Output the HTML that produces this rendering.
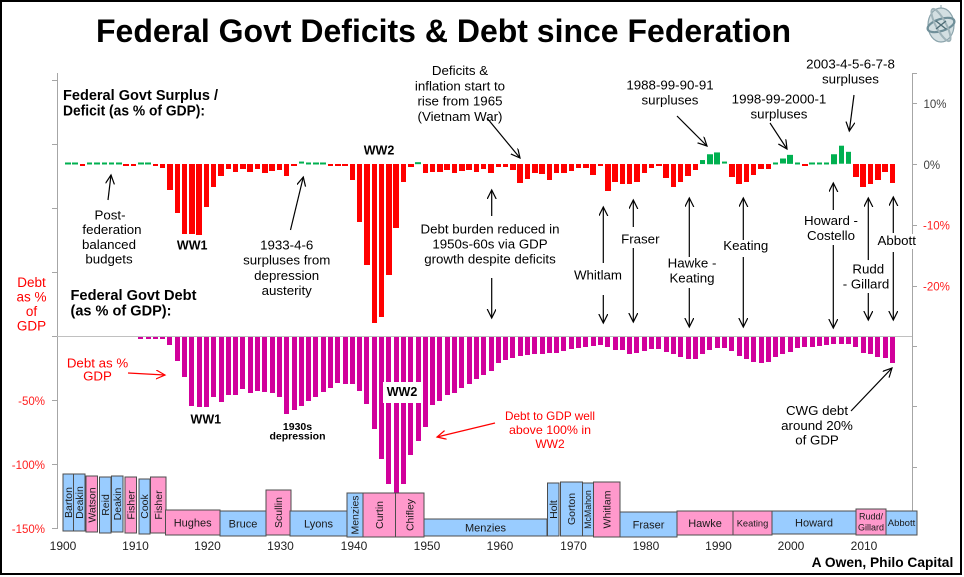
<!DOCTYPE html>
<html>
<head>
<meta charset="utf-8">
<style>
html,body{margin:0;padding:0;background:#fff;}
body{width:964px;height:577px;position:relative;overflow:hidden;font-family:"Liberation Sans",Arial,sans-serif;}
.row{position:absolute;display:flex;align-items:flex-start;height:0;width:900px;flex-wrap:nowrap;}
.row i,.row b{flex:none;display:block;width:5.5px;margin-right:1.8px;height:calc(var(--v)*6.1px);}
.row i{background:#ff0000;}
.row b{background:#00b050;transform:translateY(-100%);}
.drow{position:absolute;display:flex;align-items:flex-start;height:0;width:900px;flex-wrap:nowrap;}
.drow u{flex:none;display:block;width:5px;margin-right:2.3px;height:calc(var(--v)*1.28px);background:#d1009b;text-decoration:none;}
svg{position:absolute;left:0;top:0;}
</style>
</head>
<body>

<div class="row" style="left:65.05px;top:164px">
<b style="--v:.25"></b><b style="--v:.25"></b><i style="--v:.25"></i><b style="--v:.25"></b><b style="--v:.25"></b><b style="--v:.25"></b><b style="--v:.25"></b><b style="--v:.25"></b><i style="--v:.25"></i><i style="--v:.4"></i>
<b style="--v:.25"></b><b style="--v:.25"></b><i style="--v:.25"></i><i style="--v:.7"></i><i style="--v:4.3"></i><i style="--v:8"></i><i style="--v:11.4"></i><i style="--v:11.4"></i><i style="--v:11.6"></i><i style="--v:7"></i>
<i style="--v:3.8"></i><i style="--v:2"></i><i style="--v:.8"></i><i style="--v:1.3"></i><i style="--v:.8"></i><i style="--v:1.3"></i><i style="--v:.9"></i><i style="--v:1.5"></i><i style="--v:1.2"></i><i style="--v:1"></i>
<i style="--v:2"></i><i style="--v:.4"></i><b style="--v:.4"></b><b style="--v:.25"></b><b style="--v:.25"></b><b style="--v:.25"></b><i style="--v:.25"></i><i style="--v:.25"></i><i style="--v:.3"></i><i style="--v:2.7"></i>
<i style="--v:9.5"></i><i style="--v:16.6"></i><i style="--v:26"></i><i style="--v:25"></i><i style="--v:18.2"></i><i style="--v:10.5"></i><i style="--v:3"></i><i style="--v:.5"></i><b style="--v:.3"></b><i style="--v:1.5"></i>
<i style="--v:1.3"></i><i style="--v:1.3"></i><i style="--v:1"></i><i style="--v:1.4"></i><i style="--v:1.2"></i><i style="--v:1"></i><i style="--v:1.3"></i><i style="--v:.8"></i><i style="--v:1.4"></i><i style="--v:.5"></i>
<i style="--v:.5"></i><i style="--v:1"></i><i style="--v:3.1"></i><i style="--v:2.5"></i><i style="--v:1.5"></i><i style="--v:1.7"></i><i style="--v:2.7"></i><i style="--v:1.5"></i><i style="--v:1.5"></i><i style="--v:1.1"></i>
<i style="--v:.6"></i><i style="--v:.6"></i><i style="--v:1.8"></i><i style="--v:.25"></i><i style="--v:4.4"></i><i style="--v:2.9"></i><i style="--v:3.3"></i><i style="--v:3.2"></i><i style="--v:2.9"></i><i style="--v:1.5"></i>
<i style="--v:.6"></i><i style="--v:.3"></i><i style="--v:2.3"></i><i style="--v:3.7"></i><i style="--v:2.9"></i><i style="--v:1.9"></i><i style="--v:1"></i><b style="--v:.65"></b><b style="--v:1.6"></b><b style="--v:1.9"></b>
<b style="--v:.4"></b><i style="--v:2.2"></i><i style="--v:3.3"></i><i style="--v:3"></i><i style="--v:1.8"></i><i style="--v:.9"></i><i style="--v:.9"></i><b style="--v:.25"></b><b style="--v:.9"></b><b style="--v:1.5"></b>
<b style="--v:.25"></b><i style="--v:.4"></i><b style="--v:.25"></b><b style="--v:.25"></b><b style="--v:.25"></b><b style="--v:1.6"></b><b style="--v:3"></b><b style="--v:2"></b><i style="--v:2.1"></i><i style="--v:3.7"></i>
<i style="--v:3.3"></i><i style="--v:2.6"></i><i style="--v:1.3"></i><i style="--v:3.1"></i>
</div>

<div class="drow" style="left:65.3px;top:337px">
<u style="--v:0"></u><u style="--v:0"></u><u style="--v:0"></u><u style="--v:0"></u><u style="--v:0"></u><u style="--v:0"></u><u style="--v:0"></u><u style="--v:0"></u><u style="--v:0"></u><u style="--v:0"></u>
<u style="--v:1.3"></u><u style="--v:1.3"></u><u style="--v:1.3"></u><u style="--v:1.3"></u><u style="--v:6"></u><u style="--v:19"></u><u style="--v:31"></u><u style="--v:54"></u><u style="--v:54.5"></u><u style="--v:54.5"></u>
<u style="--v:47"></u><u style="--v:51"></u><u style="--v:45"></u><u style="--v:45"></u><u style="--v:41"></u><u style="--v:44"></u><u style="--v:42"></u><u style="--v:42.7"></u><u style="--v:43.5"></u><u style="--v:47"></u>
<u style="--v:60"></u><u style="--v:57"></u><u style="--v:54"></u><u style="--v:50"></u><u style="--v:47"></u><u style="--v:42.7"></u><u style="--v:40"></u><u style="--v:36"></u><u style="--v:37"></u><u style="--v:37"></u>
<u style="--v:42"></u><u style="--v:52"></u><u style="--v:72"></u><u style="--v:95"></u><u style="--v:115"></u><u style="--v:122"></u><u style="--v:115"></u><u style="--v:92"></u><u style="--v:81"></u><u style="--v:70"></u>
<u style="--v:53"></u><u style="--v:50"></u><u style="--v:45"></u><u style="--v:43.5"></u><u style="--v:40"></u><u style="--v:37"></u><u style="--v:33"></u><u style="--v:30"></u><u style="--v:26.5"></u><u style="--v:20"></u>
<u style="--v:18"></u><u style="--v:16.7"></u><u style="--v:14.8"></u><u style="--v:14.3"></u><u style="--v:13.5"></u><u style="--v:13"></u><u style="--v:12.2"></u><u style="--v:12.2"></u><u style="--v:11"></u><u style="--v:9.6"></u>
<u style="--v:8.9"></u><u style="--v:7.8"></u><u style="--v:7"></u><u style="--v:6.3"></u><u style="--v:7.8"></u><u style="--v:10.4"></u><u style="--v:10.4"></u><u style="--v:13"></u><u style="--v:12.2"></u><u style="--v:11"></u>
<u style="--v:9.6"></u><u style="--v:9"></u><u style="--v:11.5"></u><u style="--v:13.5"></u><u style="--v:15.6"></u><u style="--v:17.4"></u><u style="--v:17.4"></u><u style="--v:13.5"></u><u style="--v:10.4"></u><u style="--v:8.3"></u>
<u style="--v:8.3"></u><u style="--v:11"></u><u style="--v:14.8"></u><u style="--v:17.4"></u><u style="--v:19.5"></u><u style="--v:20"></u><u style="--v:19.5"></u><u style="--v:15.6"></u><u style="--v:13.5"></u><u style="--v:11.5"></u>
<u style="--v:8.9"></u><u style="--v:7.8"></u><u style="--v:7.8"></u><u style="--v:7"></u><u style="--v:6.3"></u><u style="--v:5.7"></u><u style="--v:5.2"></u><u style="--v:5.2"></u><u style="--v:7.8"></u><u style="--v:12.2"></u>
<u style="--v:13"></u><u style="--v:15.6"></u><u style="--v:16.7"></u><u style="--v:20"></u>
</div>

<svg width="964" height="577" viewBox="0 0 964 577" font-family="'Liberation Sans', Arial, sans-serif">
<defs>
<marker id="k" markerWidth="12" markerHeight="12" refX="9" refY="4.5" orient="auto" markerUnits="userSpaceOnUse"><path d="M0,0 L9,4.5 L0,9" fill="none" stroke="#000" stroke-width="1.2"/></marker>
<marker id="rr" markerWidth="12" markerHeight="12" refX="9" refY="4.5" orient="auto" markerUnits="userSpaceOnUse"><path d="M0,0 L9,4.5 L0,9" fill="none" stroke="#ff0000" stroke-width="1.2"/></marker>
</defs>

<!-- border -->
<rect x="1" y="1" width="960" height="573" fill="none" stroke="#000" stroke-width="2"/>

<!-- title -->
<text x="96" y="42" font-size="32" font-weight="bold" fill="#000" textLength="695" lengthAdjust="spacingAndGlyphs">Federal Govt Deficits &amp; Debt since Federation</text>

<!-- logo -->
<g transform="translate(941,25)">
<ellipse rx="13" ry="17" fill="#d3dfe2" stroke="#8aa3ab" stroke-width="1.2"/>
<ellipse rx="14" ry="6" transform="rotate(-18)" fill="none" stroke="#6f8f99" stroke-width="2.2"/>
<ellipse rx="5" ry="18" transform="rotate(-28)" fill="none" stroke="#9fb3b9" stroke-width="2"/>
<path d="M-5,-4 L5,4 M-5,4 L5,-4" stroke="#4f6d76" stroke-width="1.4"/>
<line x1="0" y1="-20" x2="0" y2="-17" stroke="#8aa3ab"/>
</g>

<!-- axes -->
<g stroke="#a6a6a6" stroke-width="1" fill="none">
<line x1="57.5" y1="73" x2="57.5" y2="529"/>
<path d="M52,80.5h5.5M52,144.5h5.5M52,208.5h5.5M52,272.5h5.5M52,336.5h5.5M52,400.5h5.5M52,464.5h5.5M52,528.5h5.5"/>
<line x1="912.5" y1="73" x2="912.5" y2="512"/>
<path d="M912,73.5h5M912,103.5h5M912,164.5h5M912,225.5h5M912,286.5h5M912,346.5h5M912,406.5h5M912,467.5h5"/>
</g>
<line x1="57" y1="336.5" x2="912" y2="336.5" stroke="#c0c0c0" stroke-width="1"/>

<!-- right axis labels -->
<g font-size="11.5">
<text x="923.5" y="108" fill="#404040">10%</text>
<text x="923.5" y="169" fill="#404040">0%</text>
<text x="923" y="229.5" fill="#ff2020">-10%</text>
<text x="923" y="290.5" fill="#ff2020">-20%</text>
</g>
<!-- left axis labels -->
<g font-size="11.5" fill="#ff2020" text-anchor="end">
<text x="45" y="405">-50%</text>
<text x="45" y="469">-100%</text>
<text x="45" y="533">-150%</text>
</g>
<g font-size="13.5" fill="#ff0000" text-anchor="middle">
<text x="31.5" y="287">Debt</text>
<text x="31.5" y="301.5">as %</text>
<text x="31.5" y="316">of</text>
<text x="31.5" y="330.5">GDP</text>
</g>

<!-- section headings -->
<g font-size="14.5" font-weight="bold" fill="#000">
<text x="63" y="100" textLength="155" lengthAdjust="spacingAndGlyphs">Federal Govt Surplus /</text>
<text x="63" y="115.5" textLength="142" lengthAdjust="spacingAndGlyphs">Deficit (as %  of GDP):</text>
<text x="70.5" y="300" textLength="126" lengthAdjust="spacingAndGlyphs">Federal Govt Debt</text>
<text x="70.5" y="315.5" textLength="101" lengthAdjust="spacingAndGlyphs">(as %  of GDP):</text>
</g>

<!-- annotations (deficit chart) -->
<g font-size="13.3" fill="#000" text-anchor="middle">
<text x="110" y="219.3">Post-</text>
<text x="112" y="234">federation</text>
<text x="109" y="248.8">balanced</text>
<text x="109" y="263.5">budgets</text>

<text x="286.7" y="249.5">1933-4-6</text>
<text x="286.7" y="264.5">surpluses from</text>
<text x="286.7" y="280">depression</text>
<text x="286.7" y="295">austerity</text>

<text x="460" y="75">Deficits &amp;</text>
<text x="460" y="90.5">inflation start to</text>
<text x="460" y="105.7">rise from 1965</text>
<text x="460" y="120.8">(Vietnam War)</text>

<text x="490" y="233.3">Debt burden reduced in</text>
<text x="490" y="248.3">1950s-60s via GDP</text>
<text x="490" y="263.3">growth despite deficits</text>

<text x="598" y="279.3">Whitlam</text>
<text x="640.3" y="243.3">Fraser</text>
<text x="692" y="267.3">Hawke -</text>
<text x="692" y="282.5">Keating</text>
<text x="745.8" y="250">Keating</text>
<text x="831" y="225">Howard -</text>
<text x="831" y="240">Costello</text>
<text x="868.3" y="273.3">Rudd</text>
<text x="866" y="288.3">- Gillard</text>

<text x="670" y="89.3">1988-99-90-91</text>
<text x="670" y="104.7">surpluses</text>
<text x="779" y="103.3">1998-99-2000-1</text>
<text x="779" y="118.7">surpluses</text>
<text x="850.5" y="68.3">2003-4-5-6-7-8</text>
<text x="850.5" y="83.7">surpluses</text>
</g>
<rect x="879" y="234" width="35" height="15" fill="#fff"/>
<text x="896.7" y="245" font-size="13.3" text-anchor="middle" fill="#000">Abbott</text>

<g font-weight="bold" fill="#000" text-anchor="middle">
<text x="192.2" y="249.5" font-size="12.5">WW1</text>
<text x="379" y="154.3" font-size="12.5">WW2</text>
</g>

<!-- arrows -->
<g stroke="#000" stroke-width="1.2" fill="none">
<line x1="108" y1="200" x2="111" y2="175" marker-end="url(#k)"/>
<line x1="290.5" y1="230" x2="303.3" y2="177" marker-end="url(#k)"/>
<line x1="487" y1="118" x2="520" y2="158" marker-end="url(#k)"/>
<line x1="491.7" y1="216" x2="491.7" y2="190" marker-end="url(#k)"/>
<line x1="491.7" y1="278" x2="491.7" y2="318" marker-end="url(#k)"/>
<line x1="603.3" y1="263" x2="603.3" y2="207" marker-end="url(#k)"/>
<line x1="603.3" y1="295" x2="603.3" y2="323" marker-end="url(#k)"/>
<line x1="633.3" y1="227" x2="633.3" y2="200" marker-end="url(#k)"/>
<line x1="633.3" y1="248" x2="633.3" y2="322" marker-end="url(#k)"/>
<line x1="689.3" y1="257" x2="689.3" y2="198" marker-end="url(#k)"/>
<line x1="689.3" y1="288" x2="689.3" y2="327" marker-end="url(#k)"/>
<line x1="743.3" y1="240" x2="743.3" y2="198" marker-end="url(#k)"/>
<line x1="743.3" y1="257" x2="743.3" y2="327" marker-end="url(#k)"/>
<line x1="833.3" y1="210" x2="833.3" y2="183" marker-end="url(#k)"/>
<line x1="833.3" y1="245" x2="833.3" y2="328" marker-end="url(#k)"/>
<line x1="868.3" y1="260" x2="868.3" y2="198" marker-end="url(#k)"/>
<line x1="868.3" y1="293" x2="868.3" y2="320" marker-end="url(#k)"/>
<line x1="893.3" y1="233" x2="893.3" y2="197" marker-end="url(#k)"/>
<line x1="893.3" y1="252" x2="893.3" y2="320" marker-end="url(#k)"/>
<line x1="677" y1="116" x2="707" y2="146" marker-end="url(#k)"/>
<line x1="770" y1="123" x2="787" y2="149" marker-end="url(#k)"/>
<line x1="854" y1="95" x2="849.3" y2="131" marker-end="url(#k)"/>
<line x1="851" y1="411" x2="892" y2="368" marker-end="url(#k)"/>
</g>
<g stroke="#ff0000" stroke-width="1.2" fill="none">
<line x1="128" y1="373" x2="165" y2="375" marker-end="url(#rr)"/>
<line x1="495" y1="423" x2="437" y2="437" marker-end="url(#rr)"/>
</g>

<!-- debt chart annotations -->
<g font-size="13.3" fill="#ff0000" text-anchor="middle">
<text x="97.5" y="367.7">Debt as %</text>
<text x="97.5" y="380.3">GDP</text>
</g>
<g font-size="12" fill="#ff0000" text-anchor="middle">
<text x="550" y="420" textLength="90" lengthAdjust="spacingAndGlyphs">Debt to GDP well</text>
<text x="550" y="434" textLength="82" lengthAdjust="spacingAndGlyphs">above 100%  in</text>
<text x="550" y="448">WW2</text>
</g>
<g font-size="13.3" fill="#000" text-anchor="middle">
<text x="817" y="415">CWG debt</text>
<text x="817" y="430">around 20%</text>
<text x="817" y="444.5">of GDP</text>
</g>
<g font-weight="bold" fill="#000" text-anchor="middle">
<text x="205.8" y="423.3" font-size="12.5">WW1</text>
<text x="297.5" y="430" font-size="10.5">1930s</text>
<text x="297.5" y="439.5" font-size="10.5">depression</text>
</g>
<rect x="383" y="382" width="39" height="21" fill="#fff"/>
<text x="402" y="396" font-size="12.5" font-weight="bold" text-anchor="middle" fill="#000">WW2</text>

<!-- PM boxes -->
<g stroke="#4d4d4d" stroke-width="1">
<rect x="63" y="474" width="10.5" height="57" fill="#99ccff"/>
<rect x="73.5" y="474" width="11.5" height="57" fill="#99ccff"/>
<rect x="86" y="476" width="11.5" height="56" fill="#ff99cc"/>
<rect x="99.5" y="477" width="11.5" height="56" fill="#99ccff"/>
<rect x="111.5" y="476" width="11.5" height="56" fill="#99ccff"/>
<rect x="125" y="477" width="11.5" height="56" fill="#ff99cc"/>
<rect x="139" y="479" width="11" height="55" fill="#99ccff"/>
<rect x="150.5" y="477" width="15.5" height="56" fill="#ff99cc"/>
<rect x="165.5" y="510" width="54.5" height="25" fill="#ff99cc"/>
<rect x="220" y="511" width="46" height="25" fill="#99ccff"/>
<rect x="266" y="490" width="25" height="45" fill="#ff99cc"/>
<rect x="290" y="511" width="57" height="25" fill="#99ccff"/>
<rect x="347" y="493" width="16" height="44" fill="#99ccff"/>
<rect x="363" y="493" width="32.5" height="44" fill="#ff99cc"/>
<rect x="395.5" y="493" width="28.5" height="44" fill="#ff99cc"/>
<rect x="424" y="519" width="123" height="17" fill="#99ccff"/>
<rect x="547.5" y="483" width="11.5" height="53" fill="#99ccff"/>
<rect x="560.5" y="482" width="22" height="54" fill="#99ccff"/>
<rect x="582.5" y="483" width="11" height="53" fill="#99ccff"/>
<rect x="593.5" y="482" width="26.5" height="55" fill="#ff99cc"/>
<rect x="620" y="512" width="57" height="25" fill="#99ccff"/>
<rect x="677" y="511" width="56" height="24" fill="#ff99cc"/>
<rect x="733" y="511" width="39" height="24" fill="#ff99cc"/>
<rect x="772" y="511" width="84" height="23" fill="#99ccff"/>
<rect x="856" y="509" width="30" height="26" fill="#ff99cc"/>
<rect x="886" y="511" width="31" height="24" fill="#99ccff"/>
</g>
<g font-size="10.5" fill="#1a1a1a" text-anchor="middle">
<text transform="translate(68.2,502.5) rotate(-90)" dy="3.7">Barton</text>
<text transform="translate(79.2,502.5) rotate(-90)" dy="3.7">Deakin</text>
<text transform="translate(91.7,505) rotate(-90)" dy="3.7">Watson</text>
<text transform="translate(105.2,505) rotate(-90)" dy="3.7">Reid</text>
<text transform="translate(117.2,504) rotate(-90)" dy="3.7">Deakin</text>
<text transform="translate(130.7,505) rotate(-90)" dy="3.7">Fisher</text>
<text transform="translate(144.5,506.5) rotate(-90)" dy="3.7">Cook</text>
<text transform="translate(158.2,505) rotate(-90)" dy="3.7">Fisher</text>
<text transform="translate(278.5,512.5) rotate(-90)" dy="3.7">Scullin</text>
<text transform="translate(355,515) rotate(-90)" dy="3.7">Menzies</text>
<text transform="translate(379.2,515) rotate(-90)" dy="3.7">Curtin</text>
<text transform="translate(409.7,515) rotate(-90)" dy="3.7">Chifley</text>
<text transform="translate(553.2,509.5) rotate(-90)" dy="3.7">Holt</text>
<text transform="translate(571.5,509) rotate(-90)" dy="3.7">Gorton</text>
<text transform="translate(606.7,509.5) rotate(-90)" dy="3.7">Whitlam</text>
<text transform="translate(588,509.5) rotate(-90)" dy="3.1" font-size="8.8">McMahon</text>
<text x="192.7" y="526.3" font-size="11">Hughes</text>
<text x="243" y="527.3" font-size="11">Bruce</text>
<text x="318.5" y="527.3" font-size="11">Lyons</text>
<text x="485.5" y="531.3" font-size="11">Menzies</text>
<text x="648.5" y="528.3" font-size="11">Fraser</text>
<text x="705" y="526.8" font-size="11">Hawke</text>
<text x="752.5" y="526.3" font-size="9.3">Keating</text>
<text x="814" y="526.3" font-size="11">Howard</text>
<text x="871" y="519.5" font-size="9">Rudd/</text>
<text x="871" y="530.5" font-size="9">Gillard</text>
<text x="901.5" y="526" font-size="9.5">Abbott</text>
</g>

<!-- x axis labels -->
<g font-size="12" fill="#222" text-anchor="middle">
<text x="63" y="550">1900</text>
<text x="135.5" y="550">1910</text>
<text x="207.5" y="550">1920</text>
<text x="280.5" y="550">1930</text>
<text x="354" y="550">1940</text>
<text x="427" y="550">1950</text>
<text x="500" y="550">1960</text>
<text x="573.5" y="550">1970</text>
<text x="646" y="550">1980</text>
<text x="718.5" y="550">1990</text>
<text x="791" y="550">2000</text>
<text x="864" y="550">2010</text>
</g>

<text x="811.7" y="567" font-size="13.7" font-weight="bold" fill="#000" textLength="141.6" lengthAdjust="spacingAndGlyphs">A Owen, Philo Capital</text>
</svg>
</body>
</html>
